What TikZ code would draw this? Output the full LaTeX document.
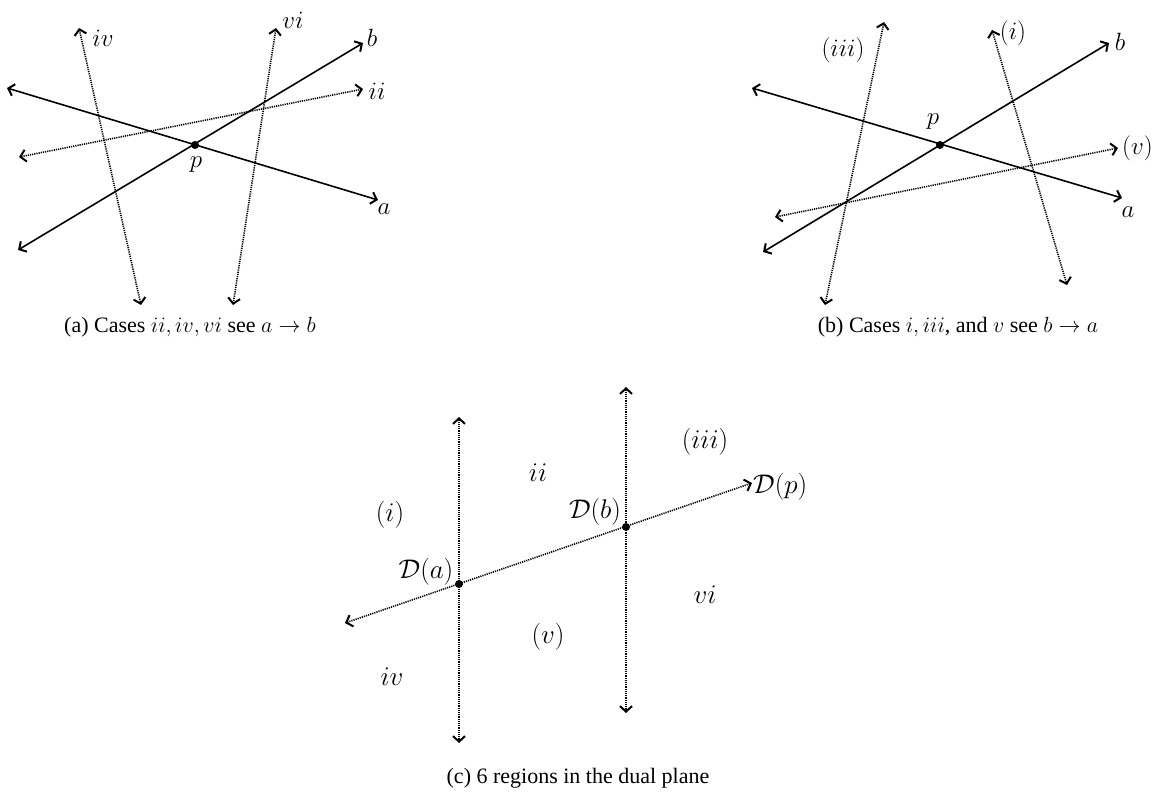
\RequirePackage{fix-cm}
\documentclass[tikz,border=0pt]{standalone}
\usepackage{fontspec}
\setmainfont{Liberation Serif}
\usetikzlibrary{arrows.meta}
\begin{document}
\begin{tikzpicture}[x=1pt,y=-1pt,
  tip/.tip={Straight Barb[length=5.5pt,width=12pt,line width=2pt]},
  solidline/.style={line width=1.6pt,{tip}-{tip}},
  dotline/.style={line width=1.6pt,dash pattern=on 1.2pt off 1pt,{tip}-{tip}},
  lbl/.style={inner sep=0pt,font=\fontsize{25}{29}\selectfont},
  lblc/.style={inner sep=0pt,font=\fontsize{27}{32}\selectfont},
  captext/.style={inner sep=0pt,font=\fontsize{22}{26}\selectfont},
  dotpt/.style={circle,fill,inner sep=0pt,minimum size=8pt}]
\useasboundingbox (0,0) rectangle (1160,793);

% ---------- panel (a) ----------
\coordinate (aA1) at (7,88);    \coordinate (aA2) at (378,200);
\coordinate (aB1) at (18,250);  \coordinate (aB2) at (363,43);
\coordinate (aII1) at (19,157); \coordinate (aII2) at (363,89);
\coordinate (aIV1) at (79,28);  \coordinate (aIV2) at (141,305);
\coordinate (aVI1) at (276,28); \coordinate (aVI2) at (233,305);
\draw[solidline] (aA1) -- (aA2);
\draw[solidline] (aB1) -- (aB2);
\draw[dotline] (aII1) -- (aII2);
\draw[dotline] (aIV1) -- (aIV2);
\draw[dotline] (aVI1) -- (aVI2);
\node[dotpt] (ap) at (195,145) {};
\node[lbl] (aLiv) at (103,38) {$iv$};
\node[lbl] (aLvi) at (293,20) {$vi$};
\node[lbl] (aLb) at (372,38) {$b$};
\node[lbl] (aLii) at (377,91) {$ii$};
\node[lbl] (aLa) at (384,209) {$a$};
\node[lbl] (aLp) at (196,165) {$p$};
\node[captext] (capa) at (190,327) {(a) Cases $ii, iv, vi$ see $a \rightarrow b$};

% ---------- panel (b) ----------
\coordinate (bA1) at (752,88);    \coordinate (bA2) at (1122,198);
\coordinate (bB1) at (763,252);   \coordinate (bB2) at (1109,43);
\coordinate (bIII1) at (884,22);  \coordinate (bIII2) at (825,305);
\coordinate (bI1) at (992,30);    \coordinate (bI2) at (1067,285);
\coordinate (bV1) at (775,217);   \coordinate (bV2) at (1118,148);
\draw[solidline] (bA1) -- (bA2);
\draw[solidline] (bB1) -- (bB2);
\draw[dotline] (bIII1) -- (bIII2);
\draw[dotline] (bI1) -- (bI2);
\draw[dotline] (bV1) -- (bV2);
\node[dotpt] (bp) at (940,145) {};
\node[lbl] (bLiii) at (843,50) {$(iii)$};
\node[lbl] (bLi) at (1013,33) {$(i)$};
\node[lbl] (bLb) at (1120,42) {$b$};
\node[lbl] (bLp) at (933,122) {$p$};
\node[lbl,anchor=west] (bLv) at (1122,148) {$(v)$};
\node[lbl] (bLa) at (1128,212) {$a$};
\node[captext] (capb) at (958,327) {(b) Cases $i, iii$, and $v$ see $b \rightarrow a$};

% ---------- panel (c) ----------
\coordinate (cL1) at (459,417); \coordinate (cL2) at (459,743);
\coordinate (cR1) at (626,387); \coordinate (cR2) at (626,713);
\coordinate (cD1) at (345,623); \coordinate (cD2) at (752,483);
\draw[dotline] (cL1) -- (cL2);
\draw[dotline] (cR1) -- (cR2);
\draw[dotline] (cD1) -- (cD2);
\node[dotpt] (cDa) at (459,584) {};
\node[dotpt] (cDb) at (626,527) {};
\node[lblc] (cLi) at (390,515) {$(i)$};
\node[lblc] (cLii) at (538,473) {$ii$};
\node[lblc] (cLiii) at (705,442) {$(iii)$};
\node[lblc] (cLDb) at (595,512) {$\mathcal{D}(b)$};
\node[lblc] (cLDa) at (426,572) {$\mathcal{D}(a)$};
\node[lblc,anchor=west] (cLDp) at (753,487) {$\mathcal{D}(p)$};
\node[lblc] (cLvi) at (705,595) {$vi$};
\node[lblc] (cLv) at (548,637) {$(v)$};
\node[lblc] (cLiv) at (392,677) {$iv$};
\node[captext] (capc) at (578,778) {(c) 6 regions in the dual plane};
\end{tikzpicture}
\end{document}
